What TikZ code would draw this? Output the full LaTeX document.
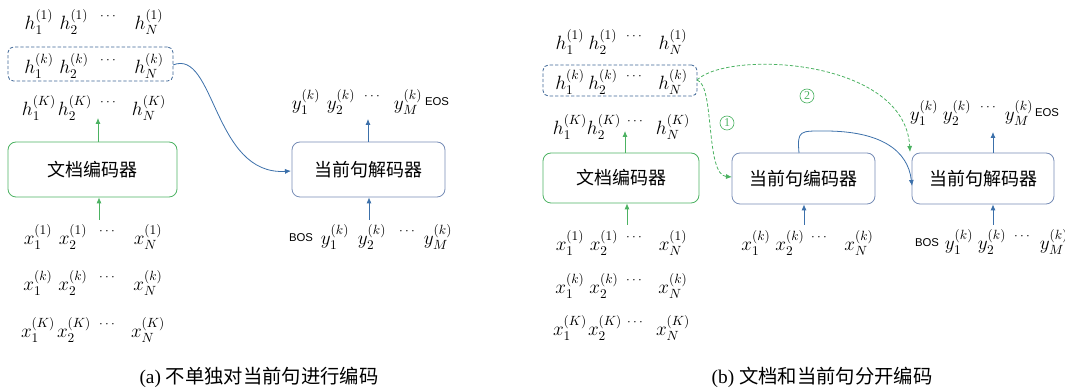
\documentclass[tikz,border=0pt]{standalone}
\usepackage{fontspec}
\setmainfont{Liberation Serif}
\newfontfamily\cjk{Noto Sans CJK SC}
\newfontfamily\lsans{Liberation Sans}
\usetikzlibrary{arrows.meta}
\definecolor{gline}{RGB}{76,178,98}
\definecolor{bdash}{RGB}{62,102,150}
\definecolor{bbox}{RGB}{118,140,182}
\definecolor{barrow}{RGB}{60,112,170}
\tikzset{
  tok/.style={inner sep=0pt,font=\fontsize{14.5}{16}\selectfont},
  dots/.style={inner sep=0pt,font=\fontsize{10}{12}\selectfont},
  tag/.style={inner sep=0pt,font=\lsans\fontsize{8.5}{10}\selectfont},
  cbox/.style={draw,rounded corners=6pt,line width=0.6pt,inner sep=0pt,font=\cjk\fontsize{13.5}{15}\selectfont},
  gbox/.style={cbox,draw=gline},
  bbx/.style={cbox,draw=bbox},
  dbox/.style={draw=bdash,rounded corners=4pt,line width=0.6pt,dash pattern=on 2.5pt off 1.5pt,inner sep=0pt},
  garr/.style={draw=gline,line width=0.6pt,-{Latex[length=4.5pt,width=3.8pt]}},
  barr/.style={draw=barrow,line width=0.6pt,-{Latex[length=4.5pt,width=3.8pt]}},
  gdash/.style={garr,dash pattern=on 2.5pt off 1.5pt},
  num/.style={circle,draw=gline,text=gline,line width=0.5pt,inner sep=0pt,minimum size=10.5pt,font=\fontsize{9}{10}\selectfont},
  captxt/.style={inner sep=0pt,font=\fontsize{14.5}{16}\selectfont}
}
\begin{document}
\begin{tikzpicture}[x=0.75pt,y=-0.75pt]
\useasboundingbox (0,0) rectangle (1065,391);
\clip (0,0) rectangle (1065,391);
% ---------------- (a) ----------------
\node[tok] (ah11) at (39,22) {$h_1^{(1)}$};
\node[tok] (ah12) at (74,22) {$h_2^{(1)}$};
\node[dots] (ah1d) at (108,17) {$\cdots$};
\node[tok] (ah1N) at (149,22) {$h_N^{(1)}$};
\node[tok] (ahk1) at (39,66) {$h_1^{(k)}$};
\node[tok] (ahk2) at (74,66) {$h_2^{(k)}$};
\node[dots] (ahkd) at (108,61) {$\cdots$};
\node[tok] (ahkN) at (149,66) {$h_N^{(k)}$};
\node[dbox,minimum width=123.75pt,minimum height=25.5pt] (ahbox) at (90.5,64) {};
\node[tok] (ahK1) at (39,108) {$h_1^{(K)}$};
\node[tok] (ahK2) at (75,108) {$h_2^{(K)}$};
\node[dots] (ahKd) at (108,103) {$\cdots$};
\node[tok] (ahKN) at (149,108) {$h_N^{(K)}$};
\node[gbox,minimum width=126.75pt,minimum height=41.25pt] (aenc) at (92.5,169.5) {文档编码器};
\coordinate (aencT) at (98,118);
\coordinate (aencB) at (99,220);
\draw[garr] (aenc.north -| aencT) -- (aencT);
\draw[garr] (aencB) -- (aenc.south -| aencB);
\node[tok] (ax11) at (38,237) {$x_1^{(1)}$};
\node[tok] (ax12) at (73,237) {$x_2^{(1)}$};
\node[dots] (ax1d) at (107,232) {$\cdots$};
\node[tok] (ax1N) at (148,237) {$x_N^{(1)}$};
\node[tok] (axk1) at (38,283) {$x_1^{(k)}$};
\node[tok] (axk2) at (73,283) {$x_2^{(k)}$};
\node[dots] (axkd) at (107,278) {$\cdots$};
\node[tok] (axkN) at (148,283) {$x_N^{(k)}$};
\node[tok] (axK1) at (38,330) {$x_1^{(K)}$};
\node[tok] (axK2) at (74,330) {$x_2^{(K)}$};
\node[dots] (axKd) at (107,325) {$\cdots$};
\node[tok] (axKN) at (148,330) {$x_N^{(K)}$};
\node[bbx,minimum width=114.75pt,minimum height=41.25pt] (adec) at (368.5,169.5) {当前句解码器};
\coordinate (adecT) at (368,119);
\coordinate (adecB) at (369,220);
\draw[barr] (adec.north -| adecT) -- (adecT);
\draw[barr] (adecB) -- (adec.south -| adecB);
\node[tok] (ay1) at (306,102) {$y_1^{(k)}$};
\node[tok] (ay2) at (341,102) {$y_2^{(k)}$};
\node[dots] (ayd) at (372,97) {$\cdots$};
\node[tok] (ayM) at (408,102) {$y_M^{(k)}$};
\node[tag] (aeos) at (437,102) {EOS};
\node[tag] (abos) at (301,238) {BOS};
\node[tok] (ab1) at (335,237) {$y_1^{(k)}$};
\node[tok] (ab2) at (372,237) {$y_2^{(k)}$};
\node[dots] (abd) at (407,232) {$\cdots$};
\node[tok] (abM) at (438,237) {$y_M^{(k)}$};
\coordinate (acs) at (173,65);
\coordinate (ace) at (291,171);
\draw[barr] (acs) .. controls (215,48) and (213,176) .. (ace);
\node[captxt] (capa) at (259,377) {(a) {\cjk 不单独对当前句进行编码}};
% ---------------- (b) ----------------
\node[tok] (bh11) at (570,42) {$h_1^{(1)}$};
\node[tok] (bh12) at (603,42) {$h_2^{(1)}$};
\node[dots] (bh1d) at (634,37) {$\cdots$};
\node[tok] (bh1N) at (673,42) {$h_N^{(1)}$};
\node[tok] (bhk1) at (570,82) {$h_1^{(k)}$};
\node[tok] (bhk2) at (603,82) {$h_2^{(k)}$};
\node[dots] (bhkd) at (634,77) {$\cdots$};
\node[tok] (bhkN) at (673,82) {$h_N^{(k)}$};
\node[dbox,minimum width=115.5pt,minimum height=23.25pt] (bhbox) at (620,80.5) {};
\node[tok] (bhK1) at (570,127) {$h_1^{(K)}$};
\node[tok] (bhK2) at (604,127) {$h_2^{(K)}$};
\node[dots] (bhKd) at (635,122) {$\cdots$};
\node[tok] (bhKN) at (673,127) {$h_N^{(K)}$};
\node[gbox,minimum width=117pt,minimum height=37.5pt] (benc) at (621,178) {文档编码器};
\coordinate (bencT) at (625,131);
\coordinate (bencB) at (627,225);
\draw[garr] (benc.north -| bencT) -- (bencT);
\draw[garr] (bencB) -- (benc.south -| bencB);
\node[tok] (bx11) at (570,243) {$x_1^{(1)}$};
\node[tok] (bx12) at (604,243) {$x_2^{(1)}$};
\node[dots] (bx1d) at (634,238) {$\cdots$};
\node[tok] (bx1N) at (673,243) {$x_N^{(1)}$};
\node[tok] (bxk1) at (570,286) {$x_1^{(k)}$};
\node[tok] (bxk2) at (604,286) {$x_2^{(k)}$};
\node[dots] (bxkd) at (634,281) {$\cdots$};
\node[tok] (bxkN) at (673,286) {$x_N^{(k)}$};
\node[tok] (bxK1) at (570,328) {$x_1^{(K)}$};
\node[tok] (bxK2) at (605,328) {$x_2^{(K)}$};
\node[dots] (bxKd) at (635,323) {$\cdots$};
\node[tok] (bxKN) at (673,328) {$x_N^{(K)}$};
\node[bbx,minimum width=107.25pt,minimum height=38.25pt] (bsenc) at (803.5,178.5) {当前句编码器};
\coordinate (bsencB) at (804,225);
\draw[barr] (bsencB) -- (bsenc.south -| bsencB);
\node[tok] (bsx1) at (756,243) {$x_1^{(k)}$};
\node[tok] (bsx2) at (790,243) {$x_2^{(k)}$};
\node[dots] (bsxd) at (819,238) {$\cdots$};
\node[tok] (bsxN) at (859,243) {$x_N^{(k)}$};
\node[bbx,minimum width=106.5pt,minimum height=38.25pt] (bdec) at (983,178.5) {当前句解码器};
\coordinate (bdecT) at (993,132);
\coordinate (bdecB) at (993,225);
\draw[barr] (bdec.north -| bdecT) -- (bdecT);
\draw[barr] (bdecB) -- (bdec.south -| bdecB);
\node[tok] (by1) at (924,113) {$y_1^{(k)}$};
\node[tok] (by2) at (957,113) {$y_2^{(k)}$};
\node[dots] (byd) at (988,108) {$\cdots$};
\node[tok] (byM) at (1019,113) {$y_M^{(k)}$};
\node[tag] (beos) at (1047,113) {EOS};
\node[tag] (bbos) at (927,243) {BOS};
\node[tok] (bb1) at (959,242) {$y_1^{(k)}$};
\node[tok] (bb2) at (992,242) {$y_2^{(k)}$};
\node[dots] (bbd) at (1022,237) {$\cdots$};
\node[tok] (bbM) at (1054,242) {$y_M^{(k)}$};
% connectors
\coordinate (bgs) at (697,80);
\coordinate (bg1) at (732,177);
\coordinate (bg2) at (910,152);
\draw[gdash] (bgs) .. controls (715,85) and (705,175) .. (bg1);
\draw[gdash] (bgs) .. controls (728,50) and (905,58) .. (bg2);
\node[num] (n1) at (727,123) {1};
\node[num] (n2) at (807,96) {2};
\coordinate (bbs) at (799,153);
\coordinate (bbm) at (825,131);
\coordinate (bbe) at (912,186);
\draw[barr] (bbs) .. controls (797,130) and (800,131) .. (bbm) .. controls (880,131) and (908,150) .. (bbe);
\node[captxt] (capb) at (822,377) {(b) {\cjk 文档和当前句分开编码}};
\end{tikzpicture}
\end{document}
